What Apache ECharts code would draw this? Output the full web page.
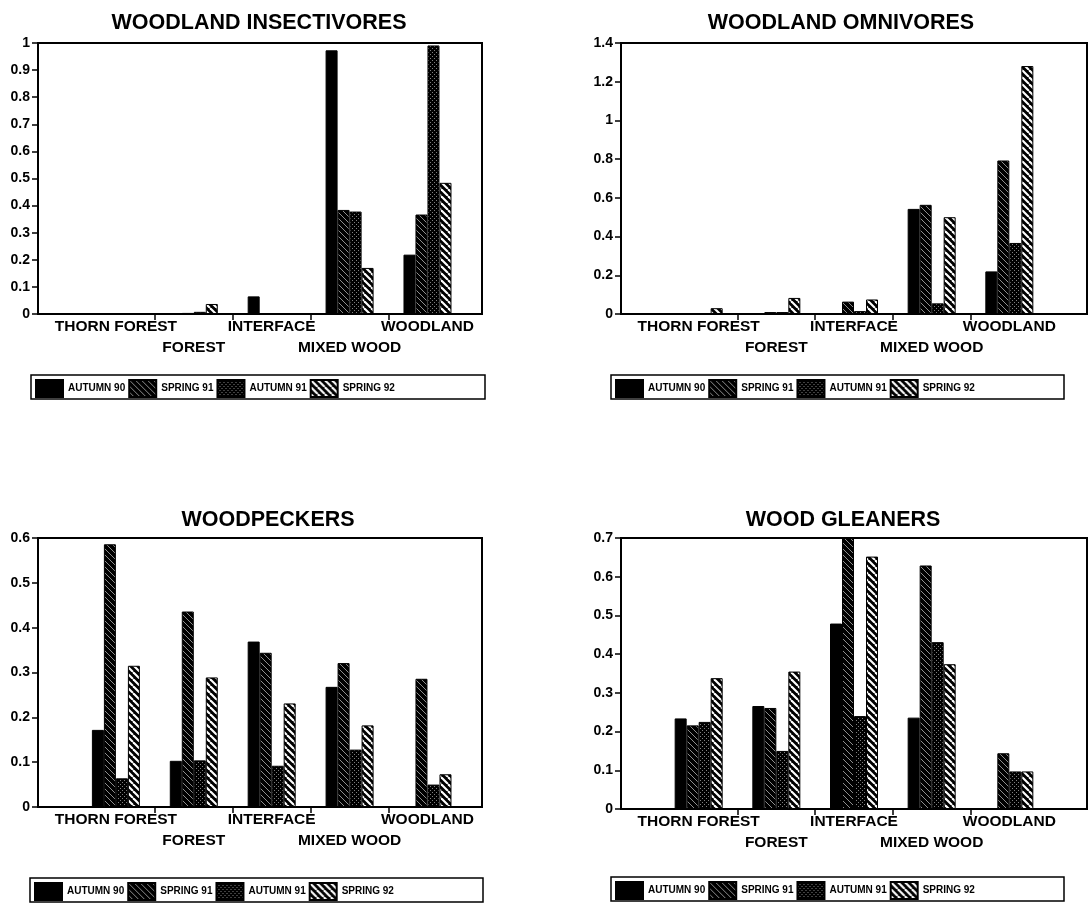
<!DOCTYPE html>
<html><head><meta charset="utf-8">
<script src="https://cdn.jsdelivr.net/npm/echarts@6/dist/echarts.min.js"></script>
<style>html,body{margin:0;padding:0;background:#fff}#c{width:1089px;height:904px}</style>
</head><body><div id="c"></div>
<script>
// ---- data ----
const categories = ['THORN FOREST', 'FOREST', 'INTERFACE', 'MIXED WOOD', 'WOODLAND'];
const seasons = ['AUTUMN 90', 'SPRING 91', 'AUTUMN 91', 'SPRING 92'];
const titles = ['WOODLAND INSECTIVORES', 'WOODLAND OMNIVORES', 'WOODPECKERS', 'WOOD GLEANERS'];

// WOODLAND INSECTIVORES
const insectAutumn90 = [0, 0, 0.065, 0.973, 0.219];
const insectSpring91 = [0, 0.004, 0, 0.384, 0.367];
const insectAutumn91 = [0, 0.008, 0, 0.378, 0.991];
const insectSpring92 = [0, 0.037, 0, 0.170, 0.484];
// WOODLAND OMNIVORES
const omniAutumn90 = [0, 0, 0, 0.543, 0.220];
const omniSpring91 = [0, 0.010, 0.064, 0.564, 0.793];
const omniAutumn91 = [0.005, 0.010, 0.015, 0.055, 0.367];
const omniSpring92 = [0.030, 0.083, 0.075, 0.500, 1.281];
// WOODPECKERS
const peckAutumn90 = [0.172, 0.103, 0.369, 0.268, 0];
const peckSpring91 = [0.586, 0.436, 0.344, 0.321, 0.286];
const peckAutumn91 = [0.064, 0.104, 0.092, 0.128, 0.050];
const peckSpring92 = [0.315, 0.289, 0.231, 0.182, 0.073];
// WOOD GLEANERS
const gleanAutumn90 = [0.234, 0.266, 0.479, 0.236, 0];
const gleanSpring91 = [0.216, 0.261, 0.700, 0.629, 0.144];
const gleanAutumn91 = [0.225, 0.150, 0.240, 0.431, 0.097];
const gleanSpring92 = [0.338, 0.355, 0.652, 0.374, 0.097];

const yMax = [1, 1.4, 0.6, 0.7];
const yStep = [0.1, 0.2, 0.1, 0.1];

const panelData = [
  [insectAutumn90, insectSpring91, insectAutumn91, insectSpring92],
  [omniAutumn90, omniSpring91, omniAutumn91, omniSpring92],
  [peckAutumn90, peckSpring91, peckAutumn91, peckSpring92],
  [gleanAutumn90, gleanSpring91, gleanAutumn91, gleanSpring92]
];

// ---- layout ----
const grids = [
  {left: 38, top: 43, width: 444, height: 271, xMax: 5.7},
  {left: 621, top: 43, width: 466, height: 271, xMax: 6},
  {left: 38, top: 538, width: 444, height: 269, xMax: 5.7},
  {left: 621, top: 538, width: 466, height: 271, xMax: 6}
];
const titlePos = [{x: 254, y: 7}, {x: 836, y: 7}, {x: 263, y: 504}, {x: 838, y: 504}];
const legendBox = [
  {x: 31, y: 375, w: 454, h: 24},
  {x: 611, y: 375, w: 453, h: 24},
  {x: 30, y: 878, w: 453, h: 24},
  {x: 611, y: 877, w: 453, h: 24}
];

// ---- patterns ----
function makePattern(kind) {
  if (kind === 'solid') return '#000';
  const c = document.createElement('canvas');
  const s = kind === 'thin' ? 6 : (kind === 'thick' ? 7 : 4);
  c.width = s; c.height = s;
  const g = c.getContext('2d');
  g.fillStyle = '#000'; g.fillRect(0, 0, s, s);
  if (kind === 'thin' || kind === 'thick') {
    g.strokeStyle = kind === 'thin' ? 'rgba(255,255,255,0.7)' : '#fff';
    g.lineWidth = kind === 'thin' ? 0.8 : 2.1;
    for (let k = -1; k <= 1; k++) {
      g.beginPath(); g.moveTo(k * s, 0); g.lineTo(k * s + s, s); g.stroke();
    }
  } else {
    g.fillStyle = 'rgba(255,255,255,0.5)';
    g.fillRect(0, 0, 1, 1); g.fillRect(2, 2, 1, 1);
  }
  return {image: c, repeat: 'repeat'};
}
const fills = [makePattern('solid'), makePattern('thin'), makePattern('dots'), makePattern('thick')];

const FONT = "'Liberation Sans', Arial, sans-serif";

const labelStyle = {fontFamily: FONT, fontSize: 15.5, fontWeight: 'bold', color: '#000', hideOverlap: false};

const xMain = grids.map((g, i) => ({
  type: 'value', gridIndex: i, min: 0, max: g.xMax,
  splitLine: {show: false},
  axisLine: {show: true, onZero: true, lineStyle: {color: '#000', width: 2}},
  axisTick: {show: true, customValues: [1.5, 2.5, 3.5, 4.5], length: 6, lineStyle: {color: '#000', width: 1.5}},
  axisLabel: Object.assign({
    customValues: [1, 3, 5],
    formatter: v => categories[Math.round(v) - 1],
    margin: 5
  }, labelStyle)
}));
const xSecond = grids.map((g, i) => ({
  type: 'value', gridIndex: i, min: 0, max: g.xMax, position: 'bottom',
  splitLine: {show: false},
  axisLine: {show: false},
  axisTick: {show: false},
  axisLabel: Object.assign({
    customValues: [2, 4],
    formatter: v => categories[Math.round(v) - 1],
    margin: 26
  }, labelStyle)
}));

const option = {
  animation: false,
  backgroundColor: '#fff',
  textStyle: {fontFamily: FONT, color: '#000'},
  title: titles.map((t, i) => ({
    text: t, left: titlePos[i].x, top: titlePos[i].y, textAlign: 'center',
    textStyle: {fontFamily: FONT, fontSize: 21.5, fontWeight: 'bold', color: '#000'}
  })),
  grid: grids.map(g => ({
    left: g.left, top: g.top, width: g.width, height: g.height,
    show: true, borderColor: '#000', borderWidth: 2, containLabel: false
  })),
  xAxis: xMain.concat(xSecond),
  yAxis: grids.map((g, i) => ({
    type: 'value', gridIndex: i, min: 0, max: yMax[i], interval: yStep[i],
    splitLine: {show: false},
    axisLine: {show: true, lineStyle: {color: '#000', width: 2}},
    axisTick: {show: true, length: 6, lineStyle: {color: '#000', width: 1.5}},
    axisLabel: {fontFamily: FONT, fontSize: 14, fontWeight: 'bold', color: '#000', margin: 8}
  })),
  legend: legendBox.map(b => ({
    data: seasons, left: b.x + 4, top: b.y + Math.round((b.h - 17) / 2), width: b.w,
    padding: 0, icon: 'rect', orient: 'horizontal',
    itemWidth: 27, itemHeight: 17, itemGap: 3, selectedMode: false,
    textStyle: {fontFamily: FONT, fontSize: 10, fontWeight: 'bold', color: '#000'}
  })),
  graphic: legendBox.map(b => ({
    type: 'rect', shape: {x: b.x, y: b.y, width: b.w, height: b.h},
    style: {fill: 'none', stroke: '#000', lineWidth: 1.5}, silent: true
  })),
  series: []
};

panelData.forEach((arrs, p) => {
  arrs.forEach((arr, s) => {
    option.series.push({
      type: 'bar', name: seasons[s], xAxisIndex: p, yAxisIndex: p,
      data: arr.map((v, i) => [i + 1, v]),
      barWidth: 12, barGap: '0%',
      itemStyle: {color: fills[s], borderColor: '#000', borderWidth: 1},
      emphasis: {disabled: true}
    });
  });
});

const chart = echarts.init(document.getElementById('c'), null, {renderer: 'canvas'});
chart.setOption(option);
</script>
</body></html>
